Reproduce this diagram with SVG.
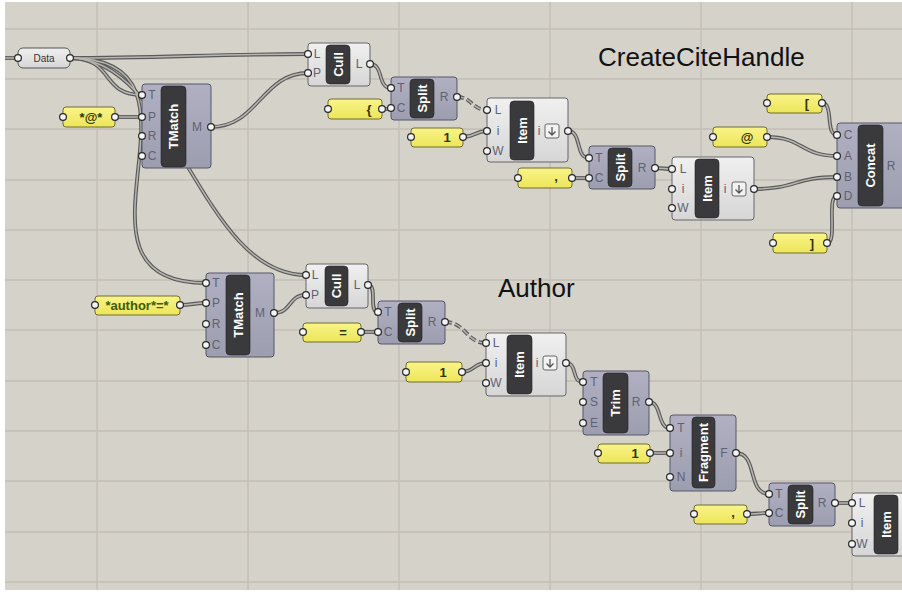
<svg xmlns="http://www.w3.org/2000/svg" width="902" height="592" viewBox="0 0 902 592">
<defs>
<linearGradient id="gp" x1="0" y1="0" x2="0" y2="1"><stop offset="0" stop-color="#b0b0c2"/><stop offset="1" stop-color="#9d9db0"/></linearGradient>
<linearGradient id="gl" x1="0" y1="0" x2="0" y2="1"><stop offset="0" stop-color="#f0f0f0"/><stop offset="1" stop-color="#d6d6d6"/></linearGradient>
<linearGradient id="gy" x1="0" y1="0" x2="0" y2="1"><stop offset="0" stop-color="#f9f488"/><stop offset="1" stop-color="#ece55a"/></linearGradient>
<style>
.cv{fill:#d5d2ca}
.gr{stroke:#c2beb5;stroke-width:1.3;fill:none}
.np{fill:url(#gp);stroke:#56566a;stroke-width:1}
.nl{fill:url(#gl);stroke:#66666a;stroke-width:1}
.lb{fill:#3a3a3c;stroke:#222;stroke-width:0.6}
.lt{fill:#ffffff;font-family:"Liberation Sans",Arial,sans-serif;font-weight:bold;font-size:13px;text-anchor:middle;dominant-baseline:central}
.pt{fill:#5e6274;font-family:"Liberation Sans",Arial,sans-serif;font-size:12px;text-anchor:middle;dominant-baseline:central}
.pn{fill:url(#gy);stroke:#6e6c30;stroke-width:1}
.px{fill:#2f3400;font-family:"Liberation Sans",Arial,sans-serif;font-size:13px;font-weight:bold;text-anchor:middle;dominant-baseline:central}
.g{fill:#f4f4f4;stroke:#262626;stroke-width:1.2}
.w1{fill:none;stroke:#5a5a5c;stroke-width:3.8}
.w2{fill:none;stroke:#b8b6ae;stroke-width:1.5}
.d{stroke-dasharray:7 3}
.ti{fill:#111;font-family:"Liberation Sans",Arial,sans-serif;font-size:26px}
.ic{fill:#f2f2f2;stroke:#666;stroke-width:1}
.ia{fill:none;stroke:#555;stroke-width:1.3}
</style>
</defs>
<rect x="0" y="0" width="902" height="592" fill="#ffffff"/>
<rect class="cv" x="5" y="2" width="897" height="588"/>
<g id="grid">
<path class="gr" d="M97 2V590M248 2V590M399 2V590M550 2V590M701 2V590M852 2V590"/>
<path class="gr" d="M5 29H902M5 79H902M5 129H902M5 180H902M5 230H902M5 280H902M5 330H902M5 381H902M5 431H902M5 481H902M5 532H902M5 582H902"/>
</g>
<g id="titles">
<text class="ti" x="598" y="66">CreateCiteHandle</text>
<text class="ti" x="498" y="297">Author</text>
</g>
<g id="connectors">
<g class="w1">
<path d="M5 58H18"/>
<path d="M70 58C150 58 228 54 308 54"/>
<path d="M70 58C115 58 100 95 142 95"/>
<path d="M70 58C230 58 46 283 206 283"/>
<path d="M70 58C175 58 200 275 306 275"/>
<path d="M211 127C258 127 262 73 308 73"/>
<path d="M115 117H142"/>
<path d="M274 313C292 313 288 295 306 295"/>
<path d="M180 305C193 305 193 303 206 303"/>
<path d="M370 64C384 64 377 88 391 88"/>
<path d="M382 109H391"/>
<path class="d" d="M457 97C472 97 472 110 487 110"/>
<path d="M463 137C475 137 475 131 487 131"/>
<path d="M568 131C582 131 575 158 589 158"/>
<path d="M572 178H589"/>
<path d="M655 168C663 168 664 169 672 169"/>
<path d="M754 189C796 189 795 177 837 177"/>
<path d="M822 103C834 103 825 135 837 135"/>
<path d="M767 137C803 137 801 156 837 156"/>
<path d="M827 243C838 243 826 196 837 196"/>
<path d="M368 285C378 285 368 312 378 312"/>
<path d="M361 332H378"/>
<path class="d" d="M445 322C466 322 466 343 486 343"/>
<path d="M462 372C474 372 474 363 486 363"/>
<path d="M566 363C578 363 571 382 583 382"/>
<path d="M649 402C662 402 657 428 670 428"/>
<path d="M650 453H670"/>
<path d="M736 453C758 453 747 494 769 494"/>
<path d="M747 514C758 514 758 513 769 513"/>
<path d="M835 503H852"/>
</g>
<g class="w2">
<path d="M5 58H18"/>
<path d="M70 58C150 58 228 54 308 54"/>
<path d="M70 58C115 58 100 95 142 95"/>
<path d="M70 58C230 58 46 283 206 283"/>
<path d="M70 58C175 58 200 275 306 275"/>
<path d="M211 127C258 127 262 73 308 73"/>
<path d="M115 117H142"/>
<path d="M274 313C292 313 288 295 306 295"/>
<path d="M180 305C193 305 193 303 206 303"/>
<path d="M370 64C384 64 377 88 391 88"/>
<path d="M382 109H391"/>
<path class="d" d="M457 97C472 97 472 110 487 110"/>
<path d="M463 137C475 137 475 131 487 131"/>
<path d="M568 131C582 131 575 158 589 158"/>
<path d="M572 178H589"/>
<path d="M655 168C663 168 664 169 672 169"/>
<path d="M754 189C796 189 795 177 837 177"/>
<path d="M822 103C834 103 825 135 837 135"/>
<path d="M767 137C803 137 801 156 837 156"/>
<path d="M827 243C838 243 826 196 837 196"/>
<path d="M368 285C378 285 368 312 378 312"/>
<path d="M361 332H378"/>
<path class="d" d="M445 322C466 322 466 343 486 343"/>
<path d="M462 372C474 372 474 363 486 363"/>
<path d="M566 363C578 363 571 382 583 382"/>
<path d="M649 402C662 402 657 428 670 428"/>
<path d="M650 453H670"/>
<path d="M736 453C758 453 747 494 769 494"/>
<path d="M747 514C758 514 758 513 769 513"/>
<path d="M835 503H852"/>
</g>
</g>

<g id="data">
<rect x="18" y="48" width="52" height="20" rx="5" fill="url(#gl)" stroke="#555" stroke-width="1"/>
<text x="44" y="58" font-family="Liberation Sans, Arial, sans-serif" font-size="10" fill="#333" text-anchor="middle" dominant-baseline="central">Data</text>
<circle class="g" cx="18" cy="58" r="3.4"/><circle class="g" cx="70" cy="58" r="3.4"/>
</g>

<g id="panel-at">
<rect class="pn" x="63" y="107" width="52" height="20" rx="3"/>
<text class="px" x="91" y="117">*@*</text>
<circle class="g" cx="63" cy="117" r="3.4"/><circle class="g" cx="115" cy="117" r="3.4"/>
</g>

<g id="tmatch1">
<rect class="np" x="142" y="84" width="69" height="84" rx="3"/>
<rect class="lb" x="161" y="86" width="25" height="81" rx="4"/>
<text class="lt" transform="translate(173.5 126.5) rotate(-90)">TMatch</text>
<text class="pt" x="152" y="95">T</text><text class="pt" x="152" y="117">P</text><text class="pt" x="152" y="136">R</text><text class="pt" x="152" y="156">C</text>
<text class="pt" x="197" y="127">M</text>
<circle class="g" cx="142" cy="95" r="3.4"/><circle class="g" cx="142" cy="117" r="3.4"/><circle class="g" cx="142" cy="136" r="3.4"/><circle class="g" cx="142" cy="156" r="3.4"/><circle class="g" cx="211" cy="127" r="3.4"/>
</g>

<g id="cull1">
<rect class="nl" x="308" y="43" width="62" height="43" rx="3"/>
<rect class="lb" x="326" y="45" width="24" height="39" rx="4"/>
<text class="lt" transform="translate(338 64.5) rotate(-90)">Cull</text>
<text class="pt" x="317" y="54">L</text><text class="pt" x="317" y="73">P</text><text class="pt" x="359" y="64">L</text>
<circle class="g" cx="308" cy="54" r="3.4"/><circle class="g" cx="308" cy="73" r="3.4"/><circle class="g" cx="370" cy="64" r="3.4"/>
</g>

<g id="panel-brace">
<rect class="pn" x="328" y="99" width="54" height="20" rx="3"/>
<text class="px" x="369" y="109">{</text>
<circle class="g" cx="328" cy="109" r="3.4"/><circle class="g" cx="382" cy="109" r="3.4"/>
</g>

<g id="split1">
<rect class="np" x="391" y="77" width="66" height="43" rx="3"/>
<rect class="lb" x="410" y="79" width="24" height="39" rx="4"/>
<text class="lt" transform="translate(422 98.5) rotate(-90)">Split</text>
<text class="pt" x="401" y="88">T</text><text class="pt" x="401" y="108">C</text><text class="pt" x="444" y="97">R</text>
<circle class="g" cx="391" cy="88" r="3.4"/><circle class="g" cx="391" cy="108" r="3.4"/><circle class="g" cx="457" cy="97" r="3.4"/>
</g>

<g id="panel-one1">
<rect class="pn" x="411" y="128" width="52" height="19" rx="3"/>
<text class="px" x="447" y="137.5">1</text>
<circle class="g" cx="411" cy="137" r="3.4"/><circle class="g" cx="463" cy="137" r="3.4"/>
</g>

<g id="item1">
<rect class="nl" x="487" y="98" width="81" height="64" rx="3"/>
<rect class="lb" x="510" y="101" width="24" height="59" rx="4"/>
<text class="lt" transform="translate(522 130.5) rotate(-90)">Item</text>
<text class="pt" x="498" y="110">L</text><text class="pt" x="498" y="131">i</text><text class="pt" x="498" y="151">W</text><text class="pt" x="539" y="131">i</text>
<rect class="ic" x="545" y="124" width="14" height="14" rx="2"/><path class="ia" d="M552 127V135M548.5 131.5L552 135L555.5 131.5"/>
<circle class="g" cx="487" cy="110" r="3.4"/><circle class="g" cx="487" cy="131" r="3.4"/><circle class="g" cx="487" cy="151" r="3.4"/><circle class="g" cx="568" cy="131" r="3.4"/>
</g>

<g id="panel-comma1">
<rect class="pn" x="518" y="168" width="54" height="20" rx="3"/>
<text class="px" x="556" y="176">,</text>
<circle class="g" cx="518" cy="178" r="3.4"/><circle class="g" cx="572" cy="178" r="3.4"/>
</g>

<g id="split2">
<rect class="np" x="589" y="146" width="66" height="43" rx="3"/>
<rect class="lb" x="608" y="148" width="24" height="39" rx="4"/>
<text class="lt" transform="translate(620 167.5) rotate(-90)">Split</text>
<text class="pt" x="599" y="158">T</text><text class="pt" x="599" y="178">C</text><text class="pt" x="642" y="168">R</text>
<circle class="g" cx="589" cy="158" r="3.4"/><circle class="g" cx="589" cy="178" r="3.4"/><circle class="g" cx="655" cy="168" r="3.4"/>
</g>

<g id="item2">
<rect class="nl" x="672" y="157" width="82" height="63" rx="3"/>
<rect class="lb" x="695" y="159" width="24" height="59" rx="4"/>
<text class="lt" transform="translate(707 188.5) rotate(-90)">Item</text>
<text class="pt" x="683" y="169">L</text><text class="pt" x="683" y="189">i</text><text class="pt" x="683" y="208">W</text><text class="pt" x="725" y="189">i</text>
<rect class="ic" x="732" y="182" width="14" height="14" rx="2"/><path class="ia" d="M739 185V193M735.5 189.5L739 193L742.5 189.5"/>
<circle class="g" cx="672" cy="169" r="3.4"/><circle class="g" cx="672" cy="189" r="3.4"/><circle class="g" cx="672" cy="208" r="3.4"/><circle class="g" cx="754" cy="189" r="3.4"/>
</g>

<g id="panel-lbr">
<rect class="pn" x="767" y="94" width="55" height="19" rx="3"/>
<text class="px" x="807" y="103.5">[</text>
<circle class="g" cx="767" cy="103" r="3.4"/><circle class="g" cx="822" cy="103" r="3.4"/>
</g>

<g id="panel-at2">
<rect class="pn" x="713" y="127" width="54" height="20" rx="3"/>
<text class="px" x="747" y="137">@</text>
<circle class="g" cx="713" cy="137" r="3.4"/><circle class="g" cx="767" cy="137" r="3.4"/>
</g>

<g id="panel-rbr">
<rect class="pn" x="773" y="233" width="54" height="20" rx="3"/>
<text class="px" x="812" y="243">]</text>
<circle class="g" cx="773" cy="243" r="3.4"/><circle class="g" cx="827" cy="243" r="3.4"/>
</g>

<g id="concat">
<rect class="np" x="837" y="123" width="70" height="85" rx="3"/>
<rect class="lb" x="858" y="125" width="25" height="81" rx="4"/>
<text class="lt" transform="translate(870.5 165.5) rotate(-90)">Concat</text>
<text class="pt" x="848" y="135">C</text><text class="pt" x="848" y="156">A</text><text class="pt" x="848" y="177">B</text><text class="pt" x="848" y="196">D</text><text class="pt" x="891" y="166">R</text>
<circle class="g" cx="837" cy="135" r="3.4"/><circle class="g" cx="837" cy="156" r="3.4"/><circle class="g" cx="837" cy="177" r="3.4"/><circle class="g" cx="837" cy="196" r="3.4"/>
</g>

<g id="panel-author">
<rect class="pn" x="95" y="296" width="85" height="19" rx="3"/>
<text class="px" x="137" y="305.5" style="fill:#3f5a0a">*author*=*</text>
<circle class="g" cx="95" cy="305" r="3.4"/><circle class="g" cx="180" cy="305" r="3.4"/>
</g>

<g id="tmatch2">
<rect class="np" x="206" y="273" width="68" height="84" rx="3"/>
<rect class="lb" x="226" y="275" width="24" height="80" rx="4"/>
<text class="lt" transform="translate(238 315) rotate(-90)">TMatch</text>
<text class="pt" x="216" y="283">T</text><text class="pt" x="216" y="303">P</text><text class="pt" x="216" y="324">R</text><text class="pt" x="216" y="345">C</text>
<text class="pt" x="260" y="313">M</text>
<circle class="g" cx="206" cy="283" r="3.4"/><circle class="g" cx="206" cy="303" r="3.4"/><circle class="g" cx="206" cy="324" r="3.4"/><circle class="g" cx="206" cy="345" r="3.4"/><circle class="g" cx="274" cy="313" r="3.4"/>
</g>

<g id="cull2">
<rect class="nl" x="306" y="264" width="62" height="44" rx="3"/>
<rect class="lb" x="325" y="266" width="23" height="40" rx="4"/>
<text class="lt" transform="translate(336.5 286) rotate(-90)">Cull</text>
<text class="pt" x="315" y="275">L</text><text class="pt" x="315" y="295">P</text><text class="pt" x="357" y="285">L</text>
<circle class="g" cx="306" cy="275" r="3.4"/><circle class="g" cx="306" cy="295" r="3.4"/><circle class="g" cx="368" cy="285" r="3.4"/>
</g>

<g id="panel-eq">
<rect class="pn" x="303" y="323" width="58" height="19" rx="3"/>
<text class="px" x="343" y="332.5">=</text>
<circle class="g" cx="303" cy="332" r="3.4"/><circle class="g" cx="361" cy="332" r="3.4"/>
</g>

<g id="split3">
<rect class="np" x="378" y="301" width="67" height="43" rx="3"/>
<rect class="lb" x="398" y="303" width="24" height="39" rx="4"/>
<text class="lt" transform="translate(410 322.5) rotate(-90)">Split</text>
<text class="pt" x="388" y="312">T</text><text class="pt" x="388" y="332">C</text><text class="pt" x="432" y="322">R</text>
<circle class="g" cx="378" cy="312" r="3.4"/><circle class="g" cx="378" cy="332" r="3.4"/><circle class="g" cx="445" cy="322" r="3.4"/>
</g>

<g id="panel-one2">
<rect class="pn" x="406" y="362" width="56" height="20" rx="3"/>
<text class="px" x="443" y="372">1</text>
<circle class="g" cx="406" cy="372" r="3.4"/><circle class="g" cx="462" cy="372" r="3.4"/>
</g>

<g id="item3">
<rect class="nl" x="486" y="333" width="80" height="63" rx="3"/>
<rect class="lb" x="507" y="335" width="25" height="59" rx="4"/>
<text class="lt" transform="translate(519.5 364.5) rotate(-90)">Item</text>
<text class="pt" x="496" y="343">L</text><text class="pt" x="496" y="363">i</text><text class="pt" x="496" y="383">W</text><text class="pt" x="537" y="363">i</text>
<rect class="ic" x="543" y="356" width="14" height="14" rx="2"/><path class="ia" d="M550 359V367M546.5 363.5L550 367L553.5 363.5"/>
<circle class="g" cx="486" cy="343" r="3.4"/><circle class="g" cx="486" cy="363" r="3.4"/><circle class="g" cx="486" cy="383" r="3.4"/><circle class="g" cx="566" cy="363" r="3.4"/>
</g>

<g id="trim">
<rect class="np" x="583" y="371" width="66" height="64" rx="3"/>
<rect class="lb" x="603" y="373" width="25" height="60" rx="4"/>
<text class="lt" transform="translate(615.5 403) rotate(-90)">Trim</text>
<text class="pt" x="594" y="382">T</text><text class="pt" x="594" y="402">S</text><text class="pt" x="594" y="423">E</text><text class="pt" x="636" y="402">R</text>
<circle class="g" cx="583" cy="382" r="3.4"/><circle class="g" cx="583" cy="402" r="3.4"/><circle class="g" cx="583" cy="423" r="3.4"/><circle class="g" cx="649" cy="402" r="3.4"/>
</g>

<g id="panel-one3">
<rect class="pn" x="598" y="444" width="52" height="19" rx="3"/>
<text class="px" x="635" y="453.5">1</text>
<circle class="g" cx="598" cy="453" r="3.4"/><circle class="g" cx="650" cy="453" r="3.4"/>
</g>

<g id="fragment">
<rect class="np" x="670" y="415" width="66" height="76" rx="3"/>
<rect class="lb" x="692" y="417" width="23" height="71" rx="4"/>
<text class="lt" transform="translate(703.5 452.5) rotate(-90)">Fragment</text>
<text class="pt" x="681" y="428">T</text><text class="pt" x="681" y="453">i</text><text class="pt" x="681" y="477">N</text><text class="pt" x="724" y="453">F</text>
<circle class="g" cx="670" cy="428" r="3.4"/><circle class="g" cx="670" cy="453" r="3.4"/><circle class="g" cx="670" cy="477" r="3.4"/><circle class="g" cx="736" cy="453" r="3.4"/>
</g>

<g id="panel-comma2">
<rect class="pn" x="694" y="505" width="53" height="19" rx="3"/>
<text class="px" x="733" y="512">,</text>
<circle class="g" cx="694" cy="514" r="3.4"/><circle class="g" cx="747" cy="514" r="3.4"/>
</g>

<g id="split4">
<rect class="np" x="769" y="483" width="66" height="43" rx="3"/>
<rect class="lb" x="788" y="485" width="25" height="39" rx="4"/>
<text class="lt" transform="translate(800.5 504.5) rotate(-90)">Split</text>
<text class="pt" x="779" y="494">T</text><text class="pt" x="779" y="513">C</text><text class="pt" x="822" y="503">R</text>
<circle class="g" cx="769" cy="494" r="3.4"/><circle class="g" cx="769" cy="513" r="3.4"/><circle class="g" cx="835" cy="503" r="3.4"/>
</g>

<g id="item4">
<rect class="nl" x="852" y="493" width="60" height="63" rx="3"/>
<rect class="lb" x="874" y="495" width="24" height="59" rx="4"/>
<text class="lt" transform="translate(886 524.5) rotate(-90)">Item</text>
<text class="pt" x="862" y="503">L</text><text class="pt" x="862" y="523">i</text><text class="pt" x="862" y="544">W</text>
<circle class="g" cx="852" cy="503" r="3.4"/><circle class="g" cx="852" cy="523" r="3.4"/><circle class="g" cx="852" cy="544" r="3.4"/>
</g>
</svg>
